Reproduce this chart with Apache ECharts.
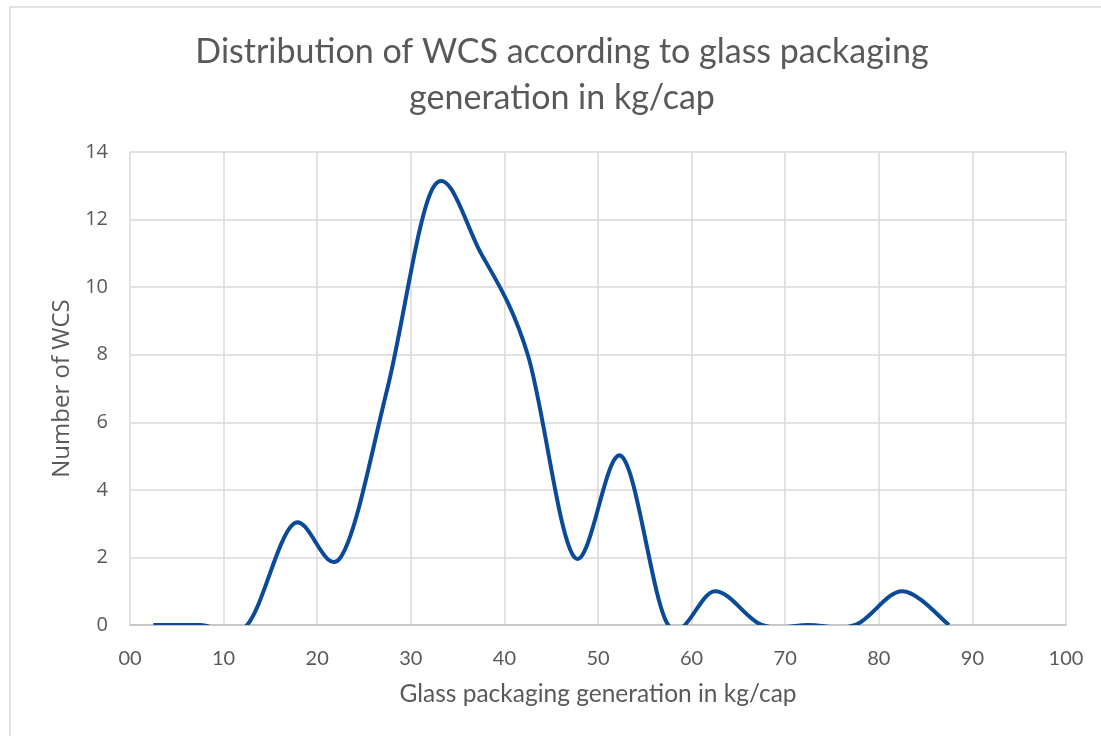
<!DOCTYPE html>
<html>
<head>
<meta charset="utf-8">
<script src="https://cdn.jsdelivr.net/npm/echarts@6/dist/echarts.min.js"></script>
<style>
html,body{margin:0;padding:0;background:#fff;}
#c{width:1101px;height:736px;}
</style>
</head>
<body>
<div id="c"></div>
<script>
const titleLines = ["Distribution of WCS according to glass packaging", "generation in kg/cap"];
const xName = "Glass packaging generation in kg/cap";
const yName = "Number of WCS";
const binCenters = [2.5, 7.5, 12.5, 17.5, 22.5, 27.5, 32.5, 37.5, 42.5, 47.5, 52.5, 57.5, 62.5, 67.5, 72.5, 77.5, 82.5, 87.5];
const wcsCounts  = [0,   0,   0,    3,    2,    7,    13,   11,   8,    2,    5,    0,    1,    0,    0,    0,    1,    0];

const FONT = "Lato";
const chart = echarts.init(document.getElementById('c'), null, {renderer: 'canvas'});

function renderCurve(params, api) {
  if (params.dataIndex !== 0) return null;
  const pts = binCenters.map((x, i) => api.coord([x, wcsCounts[i]]));
  const n = pts.length;
  let d = 'M' + pts[0][0] + ' ' + pts[0][1];
  for (let i = 0; i < n - 1; i++) {
    const p0 = pts[Math.max(i - 1, 0)], p1 = pts[i], p2 = pts[i + 1], p3 = pts[Math.min(i + 2, n - 1)];
    const c1x = p1[0] + (p2[0] - p0[0]) / 6, c1y = p1[1] + (p2[1] - p0[1]) / 6;
    const c2x = p2[0] - (p3[0] - p1[0]) / 6, c2y = p2[1] - (p3[1] - p1[1]) / 6;
    d += ' C' + c1x + ' ' + c1y + ' ' + c2x + ' ' + c2y + ' ' + p2[0] + ' ' + p2[1];
  }
  const cs = params.coordSys;
  return {
    type: 'group',
    children: [{
      type: 'path',
      shape: {pathData: d},
      style: {fill: 'none', stroke: '#0b4a99', lineWidth: 4, lineJoin: 'round', lineCap: 'butt'}
    }],
    clipPath: {type: 'rect', shape: {x: cs.x - 5, y: cs.y - 5, width: cs.width + 10, height: cs.height + 5}}
  };
}

chart.setOption({
  animation: false,
  backgroundColor: '#ffffff',
  graphic: [
    {type: 'rect', shape: {x: 10, y: 7, width: 1200, height: 800}, style: {fill: 'none', stroke: '#d9d9d9', lineWidth: 1.5}, silent: true},
    {type: 'text', x: 562, y: 52, style: {text: titleLines[0], fill: '#595959', font: '34px Lato', textAlign: 'center', textVerticalAlign: 'middle'}},
    {type: 'text', x: 562, y: 98, style: {text: titleLines[1], fill: '#595959', font: '34px Lato', textAlign: 'center', textVerticalAlign: 'middle'}}
  ],
  grid: {left: 130, right: 35, top: 152, bottom: 111},
  xAxis: {
    type: 'value', min: 0, max: 100, interval: 10,
    name: xName, nameLocation: 'middle', nameGap: 57,
    nameTextStyle: {color: '#595959', fontSize: 24.5, fontFamily: FONT},
    axisLine: {show: true, lineStyle: {color: '#bfbfbf', width: 1.5}},
    axisTick: {show: false},
    axisLabel: {color: '#595959', fontSize: 20, fontFamily: FONT, margin: 24,
      formatter: v => v === 0 ? '00' : String(v)},
    splitLine: {show: true, lineStyle: {color: '#d9d9d9', width: 1.5}}
  },
  yAxis: {
    type: 'value', min: 0, max: 14, interval: 2,
    name: yName, nameLocation: 'middle', nameGap: 56, nameRotate: 90,
    nameTextStyle: {color: '#595959', fontSize: 24, fontFamily: 'Open Sans'},
    axisLine: {show: false},
    axisTick: {show: false},
    axisLabel: {color: '#595959', fontSize: 20, fontFamily: 'Open Sans', margin: 22},
    splitLine: {show: true, lineStyle: {color: '#d9d9d9', width: 1.5}}
  },
  series: [{
    type: 'custom',
    coordinateSystem: 'cartesian2d',
    data: binCenters.map((x, i) => [x, wcsCounts[i]]),
    encode: {x: 0, y: 1},
    renderItem: renderCurve,
    clip: false
  }]
});
</script>
</body>
</html>
